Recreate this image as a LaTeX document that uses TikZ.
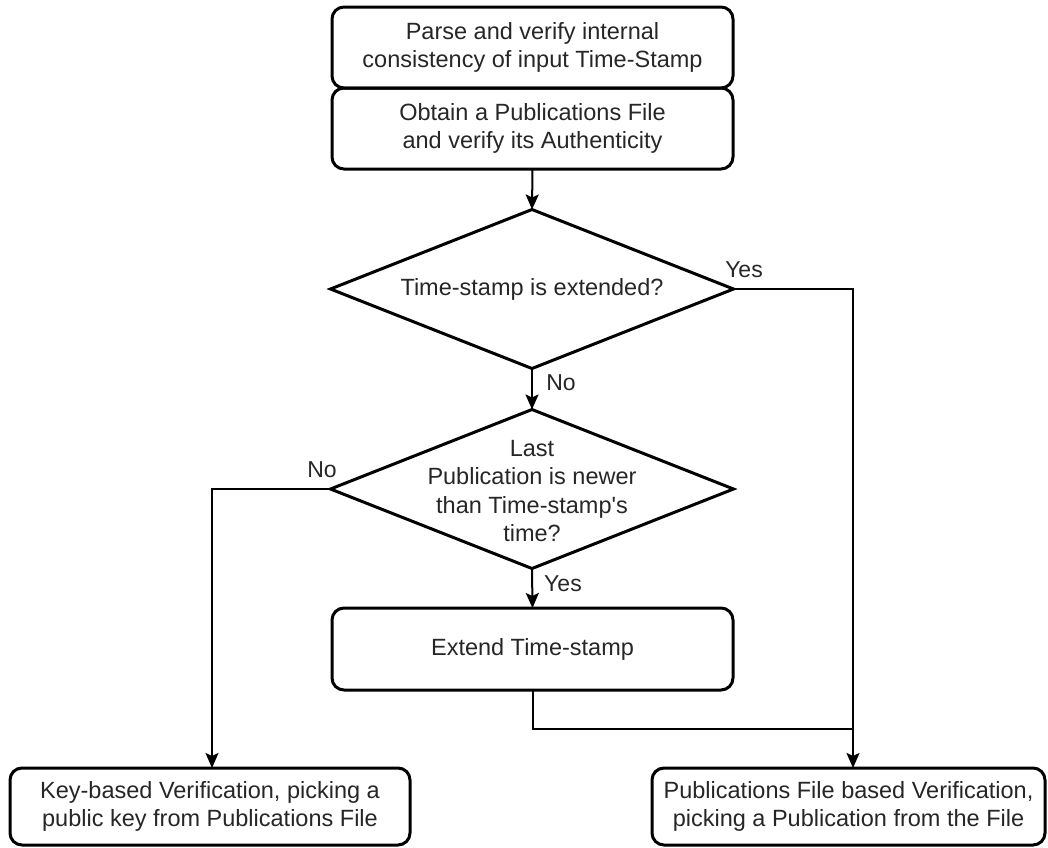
\documentclass[tikz,border=0pt]{standalone}
\usepackage{fontspec}
\setmainfont{Liberation Sans}
\usetikzlibrary{shapes.geometric,arrows.meta}
\tikzset{
  txt/.style={font=\fontsize{23.5pt}{28.5pt}\selectfont, align=center, text=black!85},
  procbox/.style={draw, line width=3pt, rounded corners=12pt, inner sep=0pt, outer sep=0pt, txt},
  dia/.style={draw, diamond, line width=3pt, inner sep=0pt, outer sep=0pt, minimum width=403pt, minimum height=159pt},
  conn/.style={line width=2pt},
  arr/.style={conn, -{Stealth[length=15pt,width=13pt,inset=3pt]}},
  lbl/.style={font=\fontsize{23pt}{27pt}\selectfont, text=black!85, inner sep=0pt},
}
\begin{document}
\begin{tikzpicture}[x=1pt,y=-1pt]
\useasboundingbox (0,0) rectangle (1048,847);
\node[procbox, minimum width=401pt, minimum height=81pt] (b1) at (532.5,47.5) {Parse and verify internal\\consistency of input Time-Stamp};
\node[procbox, minimum width=401pt, minimum height=81pt] (b2) at (532.5,128.5) {Obtain a Publications File\\and verify its Authenticity};
\node[dia] (d1) at (532,289) {};
\node[txt] (t1) at (d1.center) {Time-stamp is extended?};
\node[dia] (d2) at (532,489) {};
\node[txt] (t2) at (532,491) {Last\\Publication is newer\\than Time-stamp\textquotesingle s\\time?};
\node[procbox, minimum width=401pt, minimum height=82pt] (ext) at (532.5,649) {Extend Time-stamp};
\node[procbox, minimum width=400pt, minimum height=77pt] (kb) at (210,806.5) {Key-based Verification, picking a\\public key from Publications File};
\node[procbox, minimum width=393pt, minimum height=77pt] (pb) at (848.5,806.5) {Publications File based Verification,\\picking a Publication from the File};

\coordinate (yr) at (853,289);
\coordinate (nl) at (212,489);
\coordinate (jn) at (853,729);

\draw[arr] (b2.south) -- (d1.north);
\draw[arr] (d1.south) -- (d2.north);
\draw[arr] (d2.south) -- (ext.north);
\draw[arr] (d1.east) -- (yr) -- (yr |- pb.north);
\draw[arr] (d2.west) -- (nl) -- (nl |- kb.north);
\draw[conn] (ext.south) |- (jn);

\node[lbl] (ly1) at (744,270) {Yes};
\node[lbl] (ln1) at (561,383) {No};
\node[lbl] (ln2) at (322,470) {No};
\node[lbl] (ly2) at (563,584) {Yes};
\end{tikzpicture}
\end{document}
